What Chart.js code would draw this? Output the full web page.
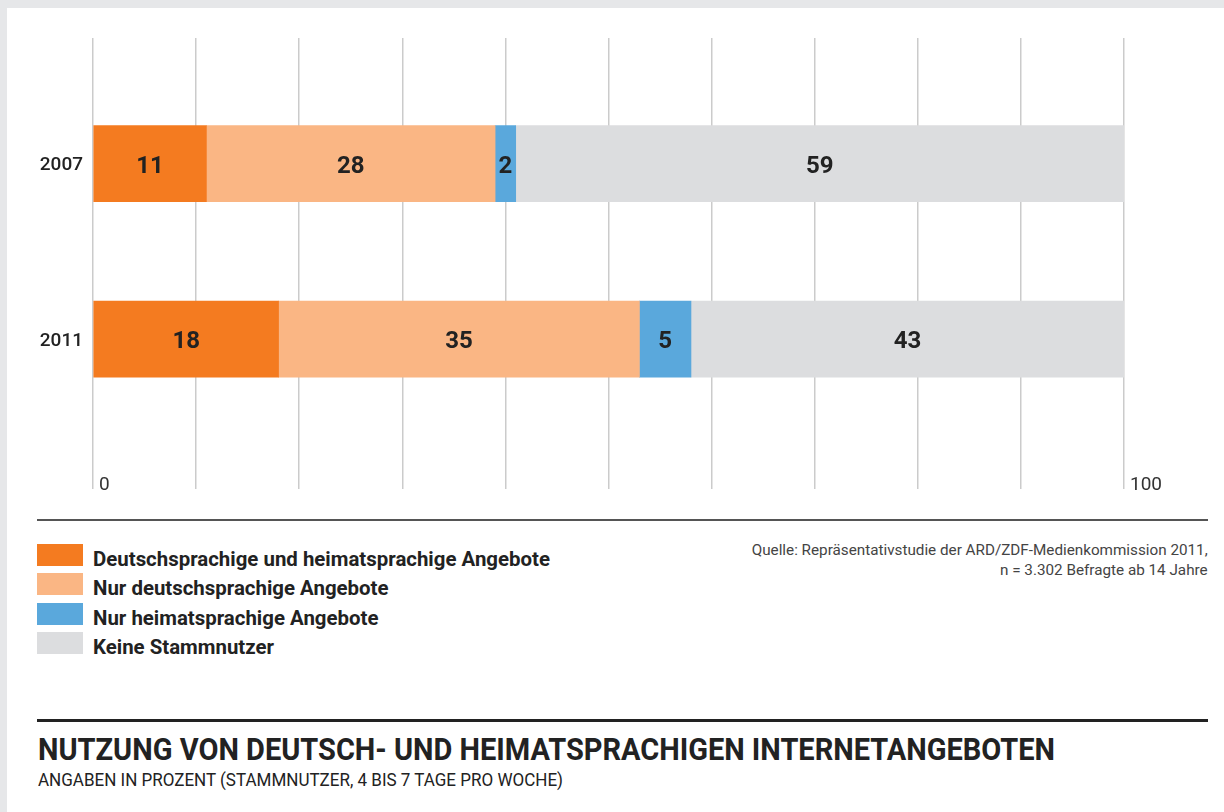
<!DOCTYPE html>
<html lang="de">
<head>
<meta charset="utf-8">
<title>Nutzung von deutsch- und heimatsprachigen Internetangeboten</title>
<script src="https://cdn.jsdelivr.net/npm/chart.js@4.4.1/dist/chart.umd.min.js"></script>
<style>
    html, body { margin: 0; padding: 0; }
    body {
        width: 1224px; height: 812px; position: relative; overflow: hidden;
        background: #e6e7e9; color: #222;
        font-family: Roboto, "Noto Sans", sans-serif;
    }
    #panel { position: absolute; left: 7px; top: 8px; right: 0; bottom: 0; background: #fff; }
    #barChart { position: absolute; left: 0; top: 0; }
    .rule { position: absolute; left: 37px; width: 1171px; }
    #rule1 { top: 519px; height: 2px; background: #555; }
    #rule2 { top: 719px; height: 3px; background: #222; }
    .txt { position: absolute; white-space: nowrap; }
    #legend .item { position: absolute; left: 37px; height: 22px; }
    #legend .box { position: absolute; left: 0; top: 0; width: 46px; height: 22px; }
    #legend .label { position: absolute; left: 56px; top: 5px; font-size: 20px; line-height: 20px; font-weight: 700; white-space: nowrap; color: #222; }
    #source { right: 16px; top: 540px; font-size: 15.5px; line-height: 20px; text-align: right; color: #444; }
    #title { left: 38px; top: 733px; font-size: 32px; line-height: 32px; font-weight: 700; color: #222; }
    #subtitle { left: 38px; top: 771px; font-size: 18px; line-height: 18px; color: #222; }
</style>
</head>
<body>
<div id="panel"></div>
<canvas id="barChart" width="1224" height="510"></canvas>
<div class="rule" id="rule1"></div>
<div id="legend"></div>
<div class="txt" id="source">Quelle: Repräsentativstudie der ARD/ZDF-Medienkommission 2011,<br>n = 3.302 Befragte ab 14 Jahre</div>
<div class="rule" id="rule2"></div>
<div class="txt" id="title">NUTZUNG VON DEUTSCH- UND HEIMATSPRACHIGEN INTERNETANGEBOTEN</div>
<div class="txt" id="subtitle">ANGABEN IN PROZENT (STAMMNUTZER, 4 BIS 7 TAGE PRO WOCHE)</div>

<script>
// Data (values in percent)
const years = ['2007', '2011'];
const seriesNames = [
    'Deutschsprachige und heimatsprachige Angebote',
    'Nur deutschsprachige Angebote',
    'Nur heimatsprachige Angebote',
    'Keine Stammnutzer'
];
const bothLanguages = [11, 18];
const germanOnly = [28, 35];
const homeOnly = [2, 5];
const noRegularUse = [59, 43];
const xTickLabels = { 0: '0', 100: '100' };

const colors = ['#f47b20', '#fab684', '#5aa8dc', '#dcdddf'];

// bar chart with a linear index axis, so the rows sit where they do in the picture
function toPoints(values) {
    return values.map((v, i) => ({ x: v, y: i }));
}

// writes the value into the middle of each segment
const segmentLabels = {
    id: 'segmentLabels',
    afterDatasetsDraw(chart) {
        const ctx = chart.ctx;
        const area = chart.chartArea;
        ctx.save();
        ctx.font = 'bold 24px Roboto, "Noto Sans", sans-serif';
        ctx.fillStyle = '#222';
        ctx.textAlign = 'center';
        ctx.textBaseline = 'middle';
        chart.data.datasets.forEach((ds, d) => {
            chart.getDatasetMeta(d).data.forEach((bar, i) => {
                const left = Math.min(bar.base, bar.x);
                const right = Math.min(Math.max(bar.base, bar.x), area.right);
                ctx.fillText(String(ds.data[i].x), (left + right) / 2, bar.y + 3);
            });
        });
        ctx.restore();
    }
};

const datasets = [bothLanguages, germanOnly, homeOnly, noRegularUse].map((values, i) => ({
    label: seriesNames[i],
    data: toPoints(values),
    backgroundColor: colors[i],
    borderWidth: 0,
    barThickness: 76
}));

const barChart = new Chart(document.getElementById('barChart').getContext('2d'), {
    type: 'bar',
    data: { datasets: datasets },
    options: {
        indexAxis: 'y',
        responsive: false,
        animation: false,
        layout: { padding: { top: 38, right: 100, left: 0, bottom: 0 } },
        plugins: {
            legend: { display: false },
            tooltip: { enabled: false }
        },
        scales: {
            x: {
                type: 'linear',
                stacked: true,
                min: 0,
                max: 100,
                afterFit(scale) { scale.height = 20; },
                grid: { color: '#cbcbcb', lineWidth: 1.5, drawTicks: false },
                border: { display: false },
                ticks: {
                    stepSize: 10,
                    autoSkip: false,
                    maxRotation: 0,
                    mirror: true,   // keeps the labels from being clipped to the axis box
                    align: 'start',
                    labelOffset: 6,
                    padding: -8,
                    color: '#333',
                    font: { family: 'Roboto', size: 19 },
                    callback: (v) => xTickLabels[v] || ''
                }
            },
            y: {
                type: 'linear',
                stacked: true,
                reverse: true,
                offset: false,
                min: -0.716,
                max: 1.852,
                afterFit(scale) { scale.width = 93; },
                afterBuildTicks(scale) { scale.ticks = years.map((yr, i) => ({ value: i })); },
                grid: { display: false, drawTicks: false, offset: false },
                border: { display: false },
                ticks: {
                    padding: 10,
                    labelOffset: 2,
                    color: '#222',
                    font: { family: 'Roboto', size: 19, weight: 500 },
                    callback: (v) => years[v]
                }
            }
        }
    },
    plugins: [segmentLabels]
});

// legend built from the chart's datasets
function buildLegend(chart) {
    const legend = document.getElementById('legend');
    chart.data.datasets.forEach((ds, i) => {
        const item = document.createElement('div');
        item.className = 'item';
        item.style.top = (544 + i * 29.3) + 'px';
        item.innerHTML = '<span class="box" style="background:' + ds.backgroundColor + '"></span>' +
            '<span class="label">' + ds.label + '</span>';
        legend.appendChild(item);
    });
}
buildLegend(barChart);

// squeeze the wide fallback font to the condensed widths of the original
function squeeze(el, target, origin) {
    const w = el.getBoundingClientRect().width;
    el.style.transformOrigin = origin;
    el.style.transform = 'scaleX(' + (target / w) + ')';
}

document.fonts.ready.then(() => {
    squeeze(document.getElementById('title'), 1017, 'left top');
    squeeze(document.getElementById('subtitle'), 525, 'left top');
    squeeze(document.getElementById('source'), 456, 'right top');
    const labels = document.querySelectorAll('#legend .label');
    const factor = 457 / labels[0].getBoundingClientRect().width;
    labels.forEach((el) => {
        el.style.transformOrigin = 'left top';
        el.style.transform = 'scaleX(' + factor + ')';
    });
});
</script>
</body>
</html>
